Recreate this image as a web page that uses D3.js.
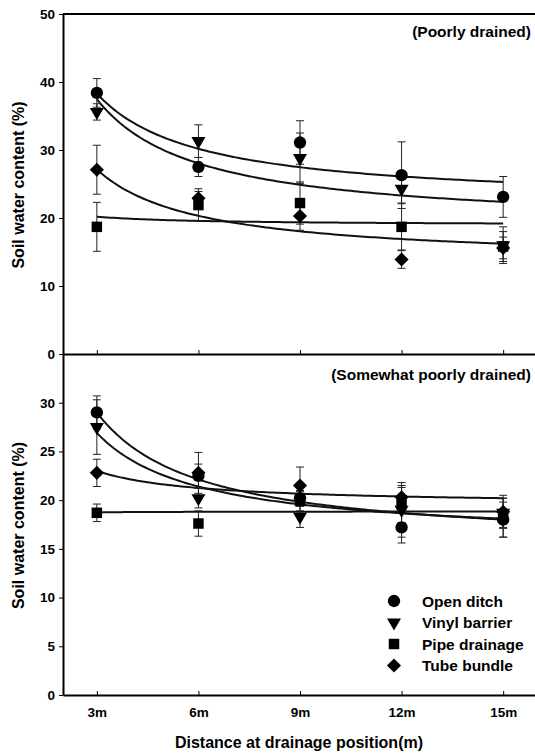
<!DOCTYPE html>
<html>
<head>
<meta charset="utf-8">
<script src="https://cdn.jsdelivr.net/npm/d3@7"></script>
<style>
  body { margin: 0; background: #fff; }
  text { font-family: "Liberation Sans", Arial, sans-serif; font-weight: bold; fill: #000; }
</style>
</head>
<body>
<div id="chart"></div>
<script>
// --------------------------------------
//  Data
// --------------------------------------

const distances = [3, 6, 9, 12, 15];
const distanceLabels = ["3m", "6m", "9m", "12m", "15m"];
const treatments = ["Open ditch", "Vinyl barrier", "Pipe drainage", "Tube bundle"];
const shapes = ["circle", "triangle", "square", "diamond"];

// Poorly drained (order: open ditch, vinyl barrier, pipe drainage, tube bundle)
const poorMeans = [
  [38.4, 27.5, 31.1, 26.3, 23.1],
  [35.6, 31.3, 28.8, 24.3, 16.0],
  [18.7, 21.9, 22.2, 18.7, 15.8],
  [27.1, 22.9, 20.3, 13.9, 15.6]
];
const poorSd = [
  [2.1, 1.4, 3.2, 4.9, 3.0],
  [1.2, 2.4, 3.7, 2.1, 2.7],
  [3.6, 2.4, 3.1, 3.4, 2.2],
  [3.6, 1.0, 2.1, 1.3, 1.6]
];
// fitted curves  y = a + b / distance
const poorFit = [
  [22.05, 48.75],
  [18.6, 56.6],
  [18.95, 3.75],
  [13.5, 40.9]
];

// Somewhat poorly drained
const somewhatMeans = [
  [29.0, 22.5, 20.2, 17.2, 18.0],
  [27.5, 20.2, 18.3, 19.0, 18.7],
  [18.7, 17.6, 19.9, 19.6, 18.2],
  [22.8, 22.8, 21.5, 20.3, 18.8]
];
const somewhatSd = [
  [1.7, 1.2, 0.8, 1.6, 1.8],
  [2.8, 1.0, 1.1, 2.8, 1.5],
  [0.9, 1.3, 1.0, 1.9, 2.0],
  [1.4, 2.1, 1.9, 1.0, 1.7]
];
const somewhatFit = [
  [15.25, 41.25],
  [15.9, 33.0],
  [18.85, -0.3],
  [19.5, 10.5]
];

const poorTicks = [0, 10, 20, 30, 40, 50];
const somewhatTicks = [0, 5, 10, 15, 20, 25, 30];

// --------------------------------------
//  Canvas
// --------------------------------------

const width = 535;
const height = 755;
const left = 63;
const innerwidth = 474;

const svg = d3.select("#chart")
  .append("svg")
    .attr("width", width)
    .attr("height", height);

const x = d3.scaleLinear()
  .domain([2, 16])
  .range([0, innerwidth]);

const symbolOf = {
  circle: d3.symbol().type(d3.symbolCircle).size(120),
  triangle: d3.symbol().type(d3.symbolTriangle).size(85),
  square: d3.symbol().type(d3.symbolSquare).size(110),
  diamond: d3.symbol().type(d3.symbolSquare).size(100)
};
const rotateOf = {circle: 0, triangle: 180, square: 0, diamond: 45};

function marker(g, shape, cx, cy) {
  g.append("path")
    .attr("d", symbolOf[shape]())
    .attr("transform", `translate(${cx}, ${cy}) rotate(${rotateOf[shape]})`)
    .attr("fill", "#000");
}

// --------------------------------------
//  Panels
// --------------------------------------

function drawPanel(cfg) {
  const y = d3.scaleLinear()
    .domain([0, cfg.max])
    .range([cfg.h, 0]);

  const g = svg.append("g")
    .attr("transform", `translate(${left}, ${cfg.top})`);

  // y axis
  g.append("g")
    .attr("class", "y-axis")
    .call(d3.axisLeft(y).tickValues(cfg.ticks).tickSize(4).tickSizeOuter(0).tickPadding(4))
    .call(a => a.select(".domain").attr("stroke-width", 2))
    .call(a => a.selectAll("text").style("font-size", "13.5px"));

  // x axis
  g.append("g")
    .attr("class", "x-axis")
    .attr("transform", `translate(0, ${cfg.h})`)
    .call(d3.axisBottom(x)
      .tickValues(distances)
      .tickSize(-4)
      .tickSizeOuter(0)
      .tickPadding(12)
      .tickFormat((d, i) => cfg.labels ? distanceLabels[i] : ""))
    .call(a => a.select(".domain").attr("stroke-width", 2))
    .call(a => a.selectAll("text").style("font-size", "13.5px"));

  if (cfg.frame) {
    g.append("line")
      .attr("x1", 0).attr("x2", width - left)
      .attr("y1", 0).attr("y2", 0)
      .attr("stroke", "#000")
      .attr("stroke-width", 2);
  }

  // fitted curves
  const xs = d3.range(3, 15.001, 0.1);
  cfg.fit.forEach(f => {
    const line = d3.line()
      .x(d => x(d))
      .y(d => y(f[0] + f[1] / d));
    g.append("path")
      .attr("d", line(xs))
      .attr("fill", "none")
      .attr("stroke", "#111")
      .attr("stroke-width", 2);
  });

  // error bars
  cfg.means.forEach((series, s) => {
    series.forEach((m, i) => {
      const sd = cfg.sd[s][i];
      const cx = x(distances[i]);
      g.append("line")
        .attr("x1", cx).attr("x2", cx)
        .attr("y1", y(m - sd)).attr("y2", y(m + sd))
        .attr("stroke", "#222").attr("stroke-width", 1);
      [m - sd, m + sd].forEach(v => {
        g.append("line")
          .attr("x1", cx - 4).attr("x2", cx + 4)
          .attr("y1", y(v)).attr("y2", y(v))
          .attr("stroke", "#222").attr("stroke-width", 1);
      });
    });
  });

  // points
  cfg.means.forEach((series, s) => {
    series.forEach((m, i) => marker(g, shapes[s], x(distances[i]), y(m)));
  });

  // panel label
  g.append("text")
    .attr("x", width - left - 4)
    .attr("y", cfg.labelY)
    .attr("text-anchor", "end")
    .style("font-size", "15.5px")
    .text(cfg.title);

  // y title
  svg.append("text")
    .attr("transform", `translate(24, ${cfg.top + cfg.h / 2 + 1}) rotate(-90)`)
    .attr("text-anchor", "middle")
    .style("font-size", "16px")
    .text("Soil water content (%)");
}

drawPanel({
  top: 14, h: 340, max: 50, ticks: poorTicks,
  means: poorMeans, sd: poorSd, fit: poorFit,
  title: "(Poorly drained)", labelY: 23, labels: false, frame: true
});

drawPanel({
  top: 354, h: 341, max: 35, ticks: somewhatTicks,
  means: somewhatMeans, sd: somewhatSd, fit: somewhatFit,
  title: "(Somewhat poorly drained)", labelY: 26, labels: true, frame: false
});

// --------------------------------------
//  X title and legend
// --------------------------------------

svg.append("text")
  .attr("x", 299)
  .attr("y", 748)
  .attr("text-anchor", "middle")
  .style("font-size", "16px")
  .text("Distance at drainage position(m)");

const legend = svg.append("g")
  .attr("transform", "translate(394, 601)");

treatments.forEach((t, i) => {
  marker(legend, shapes[i], 0, i * 21.5);
  legend.append("text")
    .attr("x", 28)
    .attr("y", i * 21.5 + 5.5)
    .style("font-size", "15.5px")
    .text(t);
});
</script>
</body>
</html>
